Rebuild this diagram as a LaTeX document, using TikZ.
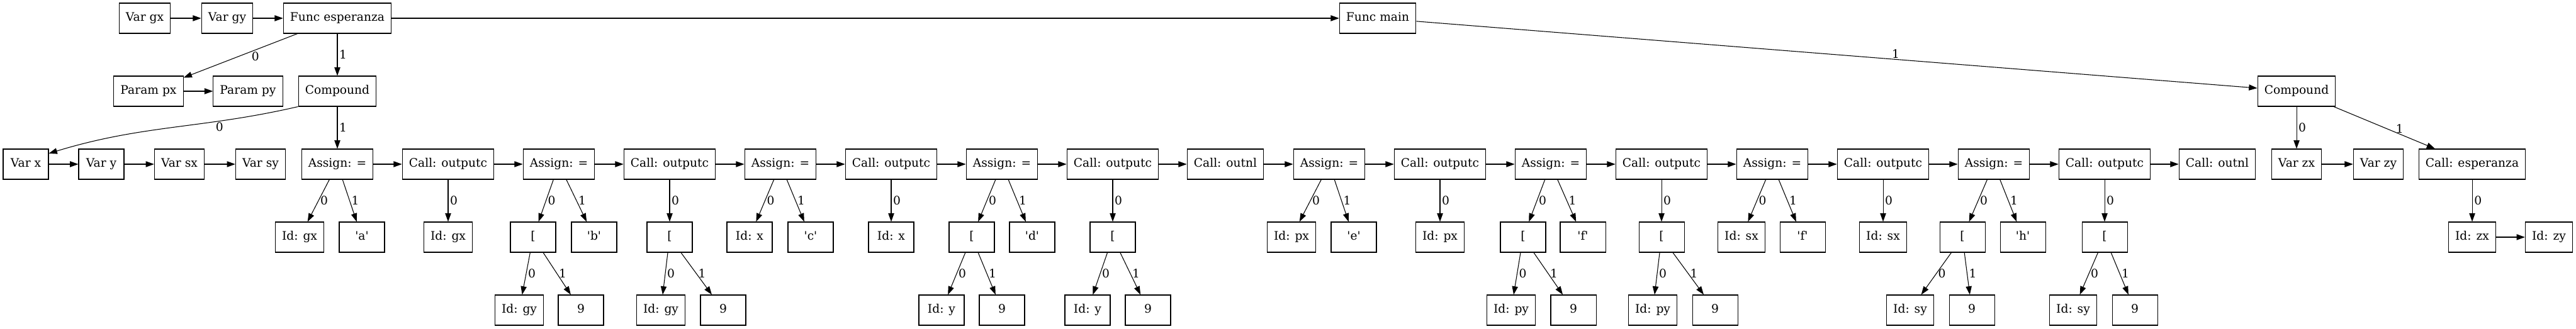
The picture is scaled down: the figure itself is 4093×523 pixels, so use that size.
\documentclass[tikz,border=0pt]{standalone}
\usepackage{fontspec}
\setmainfont{DejaVu Serif}
\usetikzlibrary{arrows.meta}
\newcommand{\quoted}[1]{\textquotesingle#1\textquotesingle}

\begin{document}
\begin{tikzpicture}[x=0.75pt, y=0.75pt,
    astbox/.style={draw, line width=0.8pt, minimum width=54pt, minimum height=36pt,
      inner xsep=8pt, text height=10.5pt, text depth=3pt, font=\fontsize{14}{17}\selectfont},
    arr/.style={-{Triangle[length=10pt,width=7pt]}, line width=0.8pt},
    lbl/.style={right, inner sep=2pt, font=\fontsize{14}{17}\selectfont}]
  \useasboundingbox (0,0) rectangle (4093,523);
  % row 1
  \foreach \n/\x/\t in {vargx/230/Var gx, vargy/361/Var gy, fesp/536/Func esperanza, fmain/2189/Func main}
    \node[astbox] (\n) at (\x,494) {\t};
  % row 2
  \foreach \n/\x/\t in {parpx/236/Param px, parpy/394/Param py, comp1/536/Compound, comp2/3649/Compound}
    \node[astbox] (\n) at (\x,378) {\t};
  % row 3
  \foreach \n/\x/\t in {varx/41/Var x, vary/161/Var y, varsx/285/Var sx, varsy/414/Var sy,
      asg1/536/Assign: =, out1/712/Call: outputc, asg2/888/Assign: =, out2/1064/Call: outputc,
      asg3/1240/Assign: =, out3/1416/Call: outputc, asg4/1592/Assign: =, out4/1768/Call: outputc,
      nl1/1947/Call: outnl, asg5/2112/Assign: =, out5/2288/Call: outputc, asg6/2464/Assign: =,
      out6/2640/Call: outputc, asg7/2816/Assign: =, out7/2992/Call: outputc, asg8/3168/Assign: =,
      out8/3344/Call: outputc, nl2/3523/Call: outnl, varzx/3649/Var zx, varzy/3779/Var zy,
      callesp/3928/Call: esperanza}
    \node[astbox] (\n) at (\x,262) {\t};
  % row 4
  \foreach \n/\x/\t in {ida1/476/Id: gx, chra/575/\quoted{a}, ido1/712/Id: gx, br2/847/{[}, chrb/944/\quoted{b},
      bro2/1064/{[}, ida3/1191/Id: x, chrc/1288/\quoted{c}, ido3/1416/Id: x, br4/1544/{[},
      chrd/1640/\quoted{d}, bro4/1768/{[}, ida5/2052/Id: px, chre/2151/\quoted{e}, ido5/2288/Id: px,
      br6/2420/{[}, chrf/2515/\quoted{f}, bro6/2640/{[}, ida7/2767/Id: sx, chrf7/2864/\quoted{f},
      ido7/2992/Id: sx, br8/3118/{[}, chrh/3214/\quoted{h}, bro8/3344/{[}, idzx/3928/Id: zx, idzy/4050/Id: zy}
    \node[astbox] (\n) at (\x,146) {\t};
  % row 5
  \foreach \n/\x/\t in {ida2/825/Id: gy, nine2/923/9, ido2/1050/Id: gy, nineo2/1149/9,
      ida4/1496/Id: y, nine4/1592/9, ido4/1728/Id: y, nineo4/1824/9,
      ida6/2401/Id: py, nine6/2500/9, ido6/2626/Id: py, nineo6/2725/9,
      ida8/3035/Id: sy, nine8/3133/9, ido8/3294/Id: sy, nineo8/3392/9}
    \node[astbox] (\n) at (\x,30) {\t};

  % sibling links
  \foreach \a/\b in {vargx/vargy, vargy/fesp, fesp/fmain, parpx/parpy, varx/vary, vary/varsx,
      varsx/varsy, asg1/out1, out1/asg2, asg2/out2, out2/asg3, asg3/out3, out3/asg4, asg4/out4,
      out4/nl1, nl1/asg5, asg5/out5, out5/asg6, asg6/out6, out6/asg7, asg7/out7, out7/asg8,
      asg8/out8, out8/nl2, varzx/varzy, idzx/idzy}
    \draw[arr] (\a) -- (\b);

  % child links
  \foreach \a/\b/\l in {fesp/comp1/1, comp1/asg1/1, comp2/varzx/0, callesp/idzx/0,
      asg1/ida1/0, asg1/chra/1, out1/ido1/0,
      asg2/br2/0, asg2/chrb/1, br2/ida2/0, br2/nine2/1,
      out2/bro2/0, bro2/ido2/0, bro2/nineo2/1,
      asg3/ida3/0, asg3/chrc/1, out3/ido3/0,
      asg4/br4/0, asg4/chrd/1, br4/ida4/0, br4/nine4/1,
      out4/bro4/0, bro4/ido4/0, bro4/nineo4/1,
      asg5/ida5/0, asg5/chre/1, out5/ido5/0,
      asg6/br6/0, asg6/chrf/1, br6/ida6/0, br6/nine6/1,
      out6/bro6/0, bro6/ido6/0, bro6/nineo6/1,
      asg7/ida7/0, asg7/chrf7/1, out7/ido7/0,
      asg8/br8/0, asg8/chrh/1, br8/ida8/0, br8/nine8/1,
      out8/bro8/0, bro8/ido8/0, bro8/nineo8/1}
    \draw[arr] (\a) -- node[lbl] {\l} (\b);

  \draw[arr] (fesp) -- node[lbl, pos=0.37, below] {0} (parpx);
  \draw[arr] (comp1.south west) to[out=193, in=17] node[lbl, pos=0.3, below, inner sep=1pt] {0} (varx.25);
  \draw[arr] (fmain) -- node[lbl, pos=0.57, above, inner sep=1pt] {1} (comp2);
  \draw[arr] (comp2) -- node[lbl, pos=0.65, above, inner sep=1pt] {1} (callesp);
\end{tikzpicture}
\end{document}
